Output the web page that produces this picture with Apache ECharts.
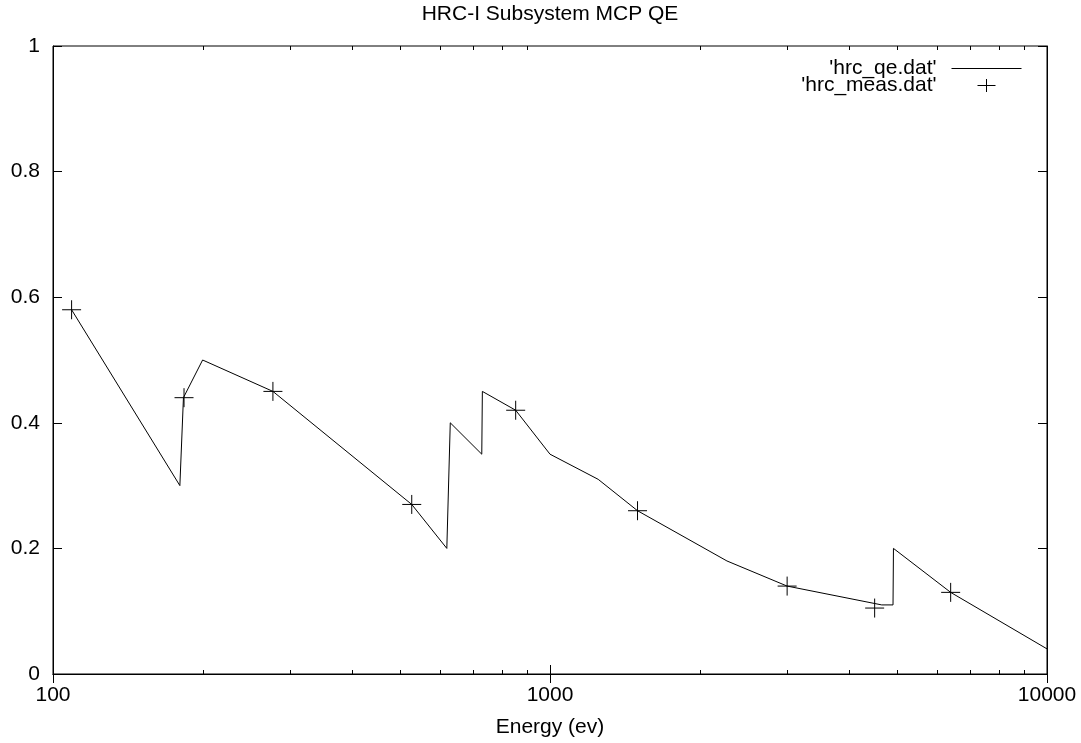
<!DOCTYPE html>
<html>
<head>
<meta charset="utf-8">
<script src="https://cdn.jsdelivr.net/npm/echarts@6/dist/echarts.min.js"></script>
<style>
html,body{margin:0;padding:0;background:#fff;}
#chart{width:1081px;height:743px;}
</style>
</head>
<body>
<div id="chart"></div>
<script>
// ---- data ----
const titleText = 'HRC-I Subsystem MCP QE';
const xAxisName = 'Energy (ev)';
const lineName = "'hrc_qe.dat'";
const measName = "'hrc_meas.dat'";
// model curve (energy eV, QE)
const qeEnergy = [109, 180, 183, 200, 277, 527, 620, 630, 729, 731, 853, 1000, 1250, 1500, 2270, 3000, 4650, 4900, 4910, 6400, 10000];
const qeValue  = [0.58, 0.30, 0.44, 0.50, 0.45, 0.27, 0.20, 0.40, 0.35, 0.45, 0.42, 0.35, 0.31, 0.26, 0.18, 0.14, 0.11, 0.11, 0.20, 0.13, 0.04];
// measurements
const measEnergy = [109, 183.5, 277, 527, 853, 1500, 3000, 4500, 6400];
const measValue  = [0.58, 0.44, 0.45, 0.27, 0.42, 0.26, 0.14, 0.105, 0.13];
// minor tick positions on the log axis
const minorTicks = [200, 300, 400, 500, 600, 700, 800, 900, 2000, 3000, 4000, 5000, 6000, 7000, 8000, 9000];
const yTicks = [0, 0.2, 0.4, 0.6, 0.8, 1];

const FONT = 'Liberation Sans, Arial, sans-serif';
const FS = 21;
const crossPath = 'path://M9.5,0 L9.5,19 M0,9.5 L19,9.5';
const lineLegend = 'path://M0,0 M80,14 M10,7 L80,7';
const crossLegend = 'path://M0,0 M80,14 M36,7 L54,7 M45,0.5 L45,13.5';

const chart = echarts.init(document.getElementById('chart'), null, {renderer: 'canvas'});
const axisCommon = {
  axisLine: {show: true, lineStyle: {color: '#000', width: 1}},
  splitLine: {show: false},
};
const option = {
  backgroundColor: '#fff',
  animation: false,
  textStyle: {fontFamily: FONT},
  title: {
    text: titleText, left: 550, textAlign: 'center', top: 4, padding: 0,
    textStyle: {fontFamily: FONT, fontSize: FS, fontWeight: 'normal', color: '#000'}
  },
  grid: {left: 53, right: 34, top: 46, bottom: 67, show: true, borderColor: '#000', borderWidth: 1, backgroundColor: 'transparent'},
  legend: {
    orient: 'vertical', right: 59, top: 58, align: 'right', padding: 0,
    itemWidth: 80, itemHeight: 14, itemGap: -4,
    textStyle: {fontFamily: FONT, fontSize: FS, color: '#000'},
    data: [
      {name: lineName, icon: lineLegend, itemStyle: {color: 'transparent', borderColor: '#000', borderWidth: 1}},
      {name: measName, icon: crossLegend, itemStyle: {color: 'transparent', borderColor: '#000', borderWidth: 1}}
    ]
  },
  xAxis: [
    Object.assign({}, axisCommon, {
      type: 'log', logBase: 10, min: 100, max: 10000, position: 'bottom',
      name: xAxisName, nameLocation: 'middle', nameGap: 43,
      nameTextStyle: {fontFamily: FONT, fontSize: FS, color: '#000'},
      axisTick: {show: true, inside: true, length: 9, lineStyle: {color: '#000'}},
      axisLabel: {fontFamily: FONT, fontSize: FS, color: '#000', margin: 11, formatter: v => String(v)}
    }),
    Object.assign({}, axisCommon, {
      type: 'log', logBase: 10, min: 100, max: 10000, position: 'top',
      axisTick: {show: true, inside: true, length: 9, lineStyle: {color: '#000'}},
      axisLabel: {show: false}
    })
  ],
  yAxis: [
    Object.assign({}, axisCommon, {
      type: 'value', min: yTicks[0], max: yTicks[yTicks.length - 1], interval: 0.2, position: 'left',
      axisTick: {show: true, inside: true, length: 9, lineStyle: {color: '#000'}},
      axisLabel: {fontFamily: FONT, fontSize: FS, color: '#000', margin: 13, formatter: v => String(v)}
    }),
    Object.assign({}, axisCommon, {
      type: 'value', min: yTicks[0], max: yTicks[yTicks.length - 1], interval: 0.2, position: 'right',
      axisTick: {show: true, inside: true, length: 9, lineStyle: {color: '#000'}},
      axisLabel: {show: false}
    })
  ],
  series: [
    {
      name: lineName, type: 'line', xAxisIndex: 0, yAxisIndex: 0,
      data: qeEnergy.map((e, i) => [e, qeValue[i]]),
      symbol: 'none', showSymbol: false,
      lineStyle: {color: '#000', width: 1},
      itemStyle: {color: '#000'}
    },
    {
      name: measName, type: 'scatter', xAxisIndex: 0, yAxisIndex: 0,
      data: measEnergy.map((e, i) => [e, measValue[i]]),
      symbol: crossPath, symbolSize: 19,
      itemStyle: {color: 'transparent', borderColor: '#000', borderWidth: 1, opacity: 1}
    },
    {
      name: 'minor', type: 'custom', xAxisIndex: 0, yAxisIndex: 0, silent: true,
      data: minorTicks.map(v => [v, 0]),
      encode: {x: 0, y: 1},
      clip: false,
      renderItem: function (params, api) {
        const v = api.value(0);
        const b = api.coord([v, 0]);
        const t = api.coord([v, 1]);
        const x = Math.round(b[0]) + 0.5;
        return {
          type: 'group',
          children: [
            {type: 'line', shape: {x1: x, y1: b[1], x2: x, y2: b[1] - 4}, style: {stroke: '#000', lineWidth: 1}},
            {type: 'line', shape: {x1: x, y1: t[1], x2: x, y2: t[1] + 4}, style: {stroke: '#000', lineWidth: 1}}
          ]
        };
      }
    }
  ]
};
chart.setOption(option);
</script>
</body>
</html>
